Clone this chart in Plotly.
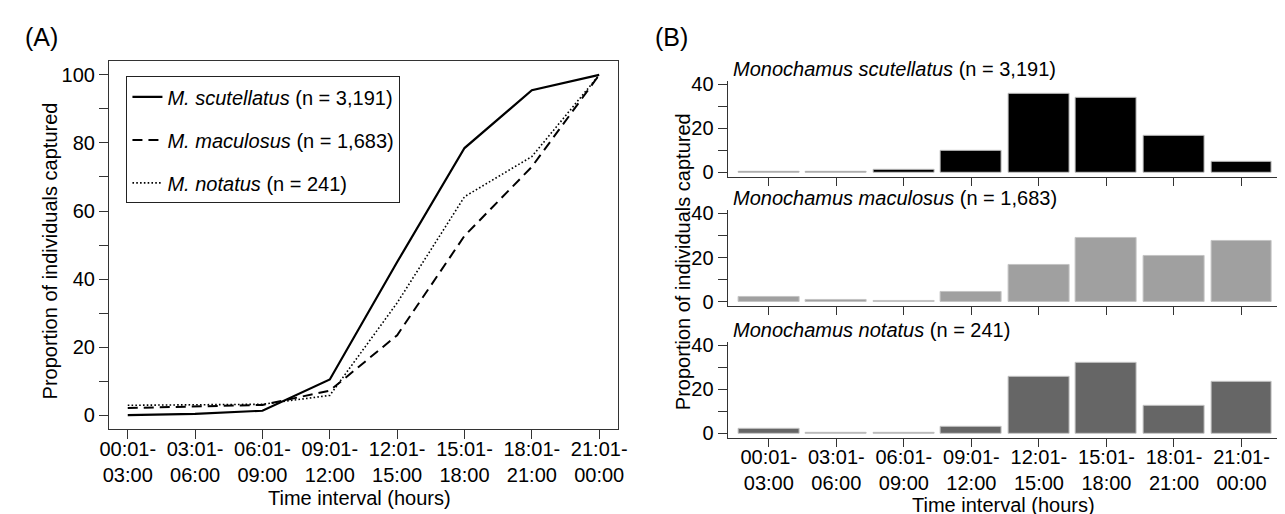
import plotly.graph_objects as go

W, H = 1285, 514

categories = ["00:01-<br>03:00", "03:01-<br>06:00", "06:01-<br>09:00", "09:01-<br>12:00",
              "12:01-<br>15:00", "15:01-<br>18:00", "18:01-<br>21:00", "21:01-<br>00:00"]

# Panel A: cumulative proportion captured (%)
cum_scutellatus = [0.0, 0.4, 1.3, 10.5, 45.0, 78.5, 95.5, 100.0]
cum_maculosus = [2.1, 2.6, 3.0, 7.2, 23.5, 52.7, 73.0, 100.0]
cum_notatus = [2.9, 3.0, 3.2, 5.8, 33.0, 64.2, 76.0, 100.0]

# Panel B: proportion captured per interval (%)
pct_scutellatus = [0.3, 0.1, 1.4, 9.6, 35.6, 33.8, 16.7, 4.7]
pct_maculosus = [2.1, 0.6, 0.3, 4.2, 16.6, 28.7, 20.5, 27.5]
pct_notatus = [2.2, 0.3, 0.3, 3.1, 25.8, 31.9, 12.4, 23.4]

legend_names = ["<i>M. scutellatus</i> (n = 3,191)",
                "<i>M. maculosus</i> (n = 1,683)",
                "<i>M. notatus</i> (n = 241)"]
panel_titles = ["<i>Monochamus scutellatus</i> (n = 3,191)",
                "<i>Monochamus maculosus</i> (n = 1,683)",
                "<i>Monochamus notatus</i> (n = 241)"]
bar_colors = ["#000000", "#a0a0a0", "#666666"]

FONT = "Liberation Sans, Arial, Helvetica, sans-serif"
AX = "#333333"
FS = 20


def fx(px):
    return px / W


def fy(py):
    return 1 - py / H


x_idx = list(range(len(categories)))

fig = go.Figure()

# ---- Panel A lines ----
styles = [dict(width=2.2, dash="solid"),
          dict(width=2.0, dash="10px,6px"),
          dict(width=1.6, dash="1.6px,2.2px")]
for i, (ys, name) in enumerate(zip([cum_scutellatus, cum_maculosus, cum_notatus], legend_names)):
    fig.add_trace(go.Scatter(x=x_idx, y=ys, mode="lines", name=name,
                             line=dict(color="black", **styles[i]),
                             legendgroup=f"g{i}", xaxis="x", yaxis="y"))

# ---- Panel B bars ----
for i, vals in enumerate([pct_scutellatus, pct_maculosus, pct_notatus]):
    fig.add_trace(go.Bar(x=x_idx, y=vals, width=0.9, showlegend=False,
                         marker=dict(color=bar_colors[i], line=dict(color="#c4c4c4", width=1)),
                         xaxis=f"x{i+2}", yaxis=f"y{i+2}"))

layout = dict(
    width=W, height=H, margin=dict(l=0, r=0, t=0, b=0),
    paper_bgcolor="white", plot_bgcolor="white",
    font=dict(family=FONT, size=FS, color="black"),
    showlegend=True,
    legend=dict(x=fx(111), y=fy(63), xanchor="left", yanchor="top",
                bordercolor="#222222", borderwidth=1, bgcolor="white",
                font=dict(size=FS), tracegroupgap=14, itemwidth=30),
    bargap=0,
)

# Panel A axes
layout["xaxis"] = dict(domain=[fx(93.2), fx(609.6)], range=[-0.28, 7.28],
                       tickmode="array", tickvals=x_idx, ticktext=categories,
                       ticks="outside", ticklen=9, tickcolor=AX, showline=True, mirror=True,
                       linecolor=AX, linewidth=1, showgrid=False, zeroline=False,
                       ticklabelstandoff=-7,
                       anchor="y", tickfont=dict(size=FS))
layout["yaxis"] = dict(domain=[fy(424.5), fy(47.5)], range=[-4, 104],
                       tickmode="linear", tick0=0, dtick=20,
                       minor=dict(ticks="outside", ticklen=9, tickcolor=AX, dtick=10, tick0=0),
                       ticks="outside", ticklen=9, tickcolor=AX, showline=True, mirror=True,
                       linecolor=AX, linewidth=1, showgrid=False, zeroline=False,
                       anchor="x", tickfont=dict(size=FS))

# Panel B axes
sub = [(67.5, 166.0), (200.0, 298.5), (335.3, 433.8)]
for i, (top, bot) in enumerate(sub):
    k = i + 2
    layout[f"xaxis{k}"] = dict(domain=[fx(720.7), fx(1283)], range=[-0.61, 7.6],
                               tickmode="array", tickvals=x_idx, ticktext=categories,
                               showticklabels=(i == 2),
                               ticks="outside", ticklen=8, tickcolor=AX, showline=True,
                               linecolor=AX, linewidth=1, showgrid=False, zeroline=False,
                               ticklabelstandoff=-7,
                               anchor=f"y{k}", tickfont=dict(size=FS))
    layout[f"yaxis{k}"] = dict(domain=[fy(bot), fy(top)], range=[-2, 41.6],
                               tickmode="linear", tick0=0, dtick=20,
                               minor=dict(ticks="outside", ticklen=9, tickcolor=AX, dtick=10, tick0=0),
                               ticks="outside", ticklen=9, tickcolor=AX, showline=True,
                               linecolor=AX, linewidth=1, showgrid=False, zeroline=False,
                               anchor=f"x{k}", tickfont=dict(size=FS))

fig.update_layout(**layout)

ann = []
ann.append(dict(text="(A)", x=fx(6), y=fy(23), xanchor="left", yanchor="middle",
                font=dict(size=25)))
ann.append(dict(text="(B)", x=fx(645), y=fy(23), xanchor="left", yanchor="middle",
                font=dict(size=25)))
ann.append(dict(text="Proportion of individuals captured", x=fx(33), y=fy(242),
                textangle=-90, xanchor="center", yanchor="middle", font=dict(size=FS)))
ann.append(dict(text="Proportion of individuals captured", x=fx(675), y=fy(253),
                textangle=-90, xanchor="center", yanchor="middle", font=dict(size=FS)))
ann.append(dict(text="Time interval (hours)", x=fx(347), y=fy(496),
                xanchor="center", yanchor="middle", font=dict(size=FS)))
ann.append(dict(text="Time interval (hours)", x=fx(1001), y=fy(503),
                xanchor="center", yanchor="middle", font=dict(size=FS)))
for (top, bot), t in zip(sub, panel_titles):
    ann.append(dict(text=t, x=fx(724), y=fy(top - 12), xanchor="left", yanchor="middle",
                    font=dict(size=FS)))
for a in ann:
    a.update(xref="paper", yref="paper", showarrow=False)
fig.update_layout(annotations=ann)

fig.write_html("out.html")
